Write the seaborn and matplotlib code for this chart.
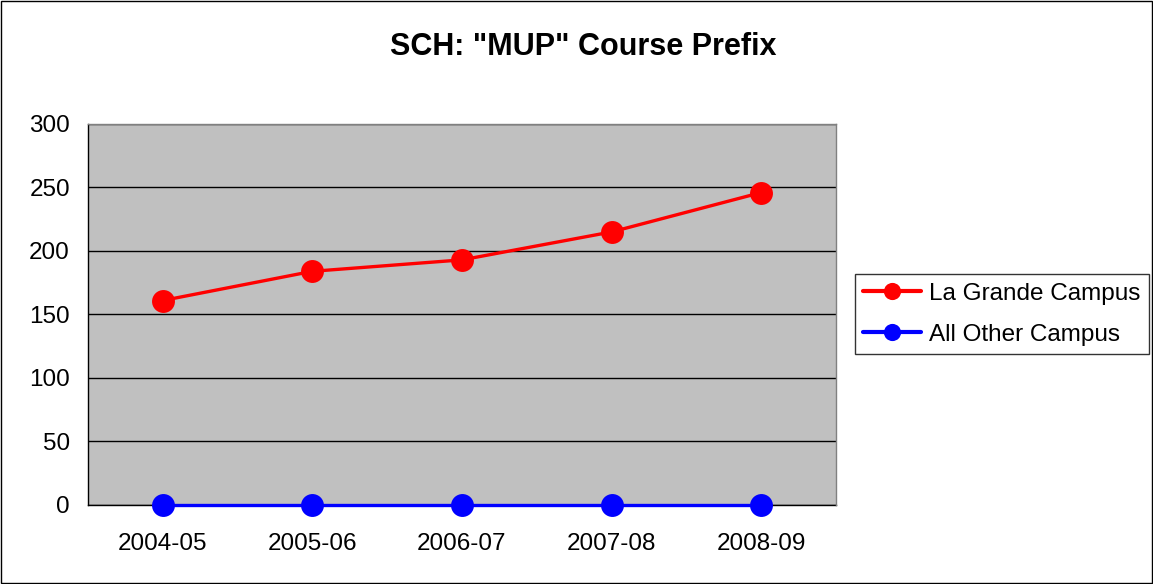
import pandas as pd
import numpy as np
import matplotlib
matplotlib.use("Agg")
import matplotlib.pyplot as plt
import seaborn as sns
from matplotlib.patches import Rectangle

# data
years = ["2004-05", "2005-06", "2006-07", "2007-08", "2008-09"]
la_grande = [161, 184, 193, 215, 246]
all_other = [0, 0, 0, 0, 0]
series_names = ["La Grande Campus", "All Other Campus"]

sns.set_style("white")
plt.rcParams['font.family'] = ['Liberation Sans', 'DejaVu Sans']
plt.rcParams['text.color'] = 'black'
plt.rcParams['xtick.color'] = 'black'
plt.rcParams['ytick.color'] = 'black'

df = pd.DataFrame({
    "pos": list(range(len(years))) * 2,
    "SCH": la_grande + all_other,
    "series": [series_names[0]] * len(years) + [series_names[1]] * len(years),
})

fig = plt.figure(figsize=(11.53, 5.84), dpi=100)
ax = fig.add_axes([0.0763, 0.1353, 0.6487, 0.6524])
ax.set_facecolor("#C0C0C0")

sns.lineplot(data=df, x="pos", y="SCH", hue="series", hue_order=series_names,
             palette=["#FF0000", "#0000FF"], marker="o", markersize=16.5,
             markeredgewidth=0, linewidth=2.4, ax=ax, clip_on=False, zorder=3)

ax.set_ylim(0, 300)
ax.set_yticks(range(0, 301, 50))
ax.set_xlim(-0.5, len(years) - 0.5)
ax.set_xticks(np.arange(-0.5, len(years), 1.0))
ax.set_xticklabels([])
ax.set_xticks(range(len(years)), minor=True)
ax.set_xticklabels(years, minor=True)
ax.tick_params(axis="x", which="minor", length=0, pad=20, labelsize=17.5)
ax.tick_params(axis="x", which="major", length=5, width=1, direction="out", color="black")
ax.tick_params(axis="y", length=6, width=1, direction="out", color="black", labelsize=17.5, pad=7)
ax.yaxis.grid(True, color="black", linewidth=1)
ax.set_axisbelow(True)
ax.set_xlabel("")
ax.set_ylabel("")

for s in ["top", "right"]:
    ax.spines[s].set_color("#808080")
    ax.spines[s].set_linewidth(1)
for s in ["left", "bottom"]:
    ax.spines[s].set_color("black")
    ax.spines[s].set_linewidth(1)
    ax.spines[s].set_zorder(2)

fig.text(0.506, 0.92, 'SCH: "MUP" Course Prefix', ha="center", va="center",
         fontsize=22, fontweight="bold")

leg = ax.legend(loc="center left", bbox_to_anchor=(1.012, 0.5), fontsize=17.5,
                frameon=True, fancybox=False, edgecolor="black",
                handlelength=2.4, handletextpad=0.3, borderpad=0.35,
                labelspacing=0.78, markerscale=0.75, borderaxespad=0.4)
leg.get_frame().set_linewidth(1)
for line in leg.get_lines():
    line.set_linewidth(3)

fig.patches.append(Rectangle((0.001, 0.001), 0.998, 0.997, transform=fig.transFigure,
                             fill=False, edgecolor="black", linewidth=1))

fig.savefig("out.png", dpi=100, facecolor="white")
